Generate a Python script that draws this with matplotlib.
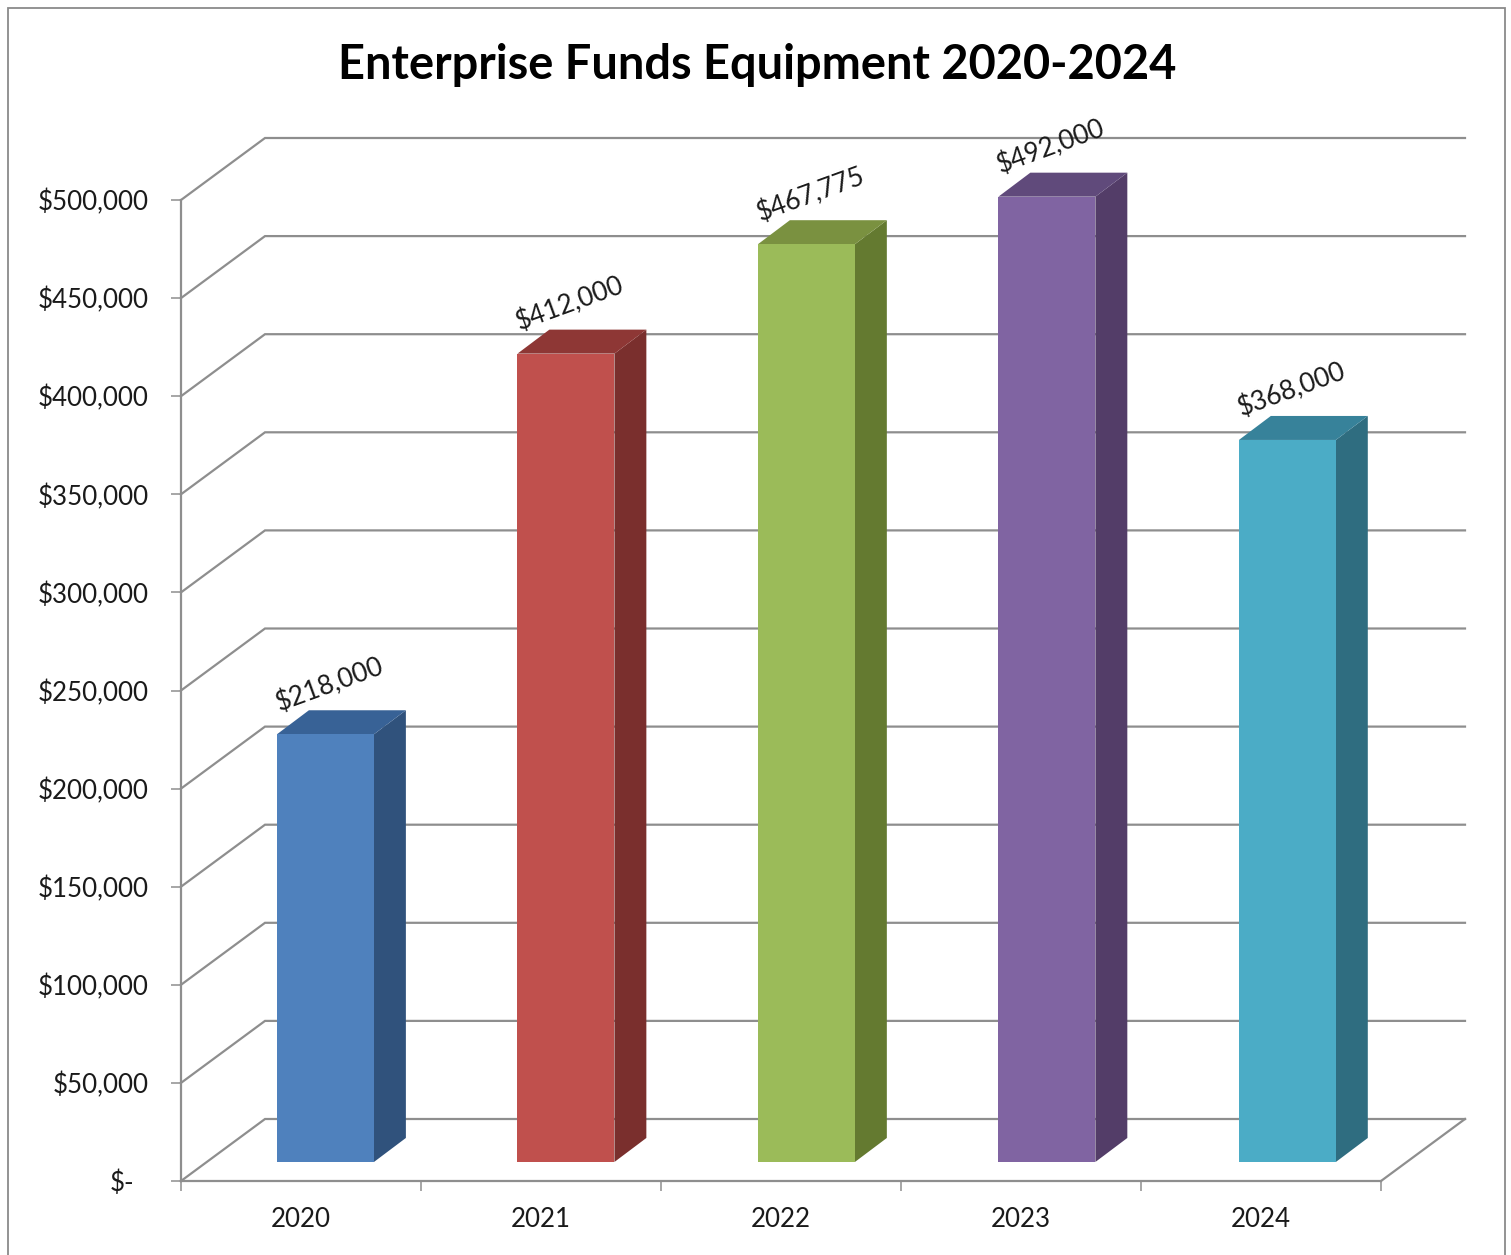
from matplotlib import pyplot as plt
from matplotlib.patches import Polygon, Rectangle
import numpy as np

years = ["2020", "2021", "2022", "2023", "2024"]
values = [218000, 412000, 467775, 492000, 368000]
ticks = [0, 50000, 100000, 150000, 200000, 250000, 300000, 350000, 400000, 450000, 500000]
front_colors = ["#4F81BD", "#C0504D", "#9BBB59", "#8064A2", "#4BACC6"]
side_colors = ["#30527C", "#7A2F2D", "#647A30", "#533D68", "#2F6D80"]
top_colors = ["#386296", "#8E3735", "#7A9140", "#604A7B", "#37829A"]

# fake 3d: how far the back wall and the bars are shifted, in data units
wall_dx = 0.35
wall_dy = 31600
bar_left = 0.40
bar_step = 1.002
bar_width = 0.404
bar_base = 9700
side_dx = 0.133
side_dy = 12230

grid_color = "#8E8E8E"
px = 0.72  # pixels to points at dpi 100
W, H = 1511, 1255


def money(v):
    if v == 0:
        return "$-"
    return f"${v:,}"


plt.rcParams["font.family"] = ["Lato", "DejaVu Sans"]

fig = plt.figure(figsize=(W / 100, H / 100), dpi=100)
ax = fig.add_axes([181 / W, (H - 1181) / H, 1200 / W, 981 / H])
ax.set_xlim(0, 5)
ax.set_ylim(0, 500000)
ax.patch.set_visible(False)

# chart frame, open at the bottom like the cropped screenshot
fig.add_artist(Rectangle((8 / W, -0.01), 1497 / W, (H - 8) / H + 0.01, transform=fig.transFigure,
                         fill=False, edgecolor="#8A8A8A", linewidth=1.3))

# gridlines running along the floor/side wall and the back wall
for v in ticks:
    ax.plot([0, wall_dx, 5 + wall_dx], [v, v + wall_dy, v + wall_dy],
            color=grid_color, lw=1.6, clip_on=False, zorder=1, solid_joinstyle="miter")
ax.plot([5, 5 + wall_dx], [0, wall_dy], color=grid_color, lw=1.6, clip_on=False, zorder=1)

for i in range(len(years)):
    x0 = i * bar_step + bar_left
    x1 = x0 + bar_width
    y0 = bar_base
    y1 = values[i] + bar_base
    ax.add_patch(Polygon([(x1, y0), (x1 + side_dx, y0 + side_dy), (x1 + side_dx, y1 + side_dy), (x1, y1)],
                         facecolor=side_colors[i], edgecolor="none", clip_on=False, zorder=3))
    ax.add_patch(Polygon([(x0, y1), (x0 + side_dx, y1 + side_dy), (x1 + side_dx, y1 + side_dy), (x1, y1)],
                         facecolor=top_colors[i], edgecolor="none", clip_on=False, zorder=3))
    ax.add_patch(Rectangle((x0, y0), bar_width, values[i], facecolor=front_colors[i],
                           edgecolor="none", clip_on=False, zorder=4))
    ax.annotate(money(values[i]), xy=((x0 + x1) / 2, y1), xytext=(4 * px, 50 * px),
                textcoords="offset points", rotation=20, rotation_mode="anchor",
                ha="center", va="center", fontsize=19, color="#1A1A1A", zorder=5,
                annotation_clip=False)

for s in ["top", "right"]:
    ax.spines[s].set_visible(False)
for s in ["left", "bottom"]:
    ax.spines[s].set_color(grid_color)
    ax.spines[s].set_linewidth(1.6)
    ax.spines[s].set_zorder(2)

ax.set_yticks(ticks)
ax.set_yticklabels([money(v) for v in ticks], fontsize=18.6, color="#1A1A1A")
ax.tick_params(axis="y", length=10 * px, width=1.1, color=grid_color, pad=22 * px)
# the "$-" label sits further left than the others (accounting format padding)
ax.get_yticklabels()[0].set_x(-15 / 1200)

ax.set_xticks(np.arange(6))
ax.set_xticklabels([])
ax.tick_params(axis="x", which="major", length=10 * px, width=1.1, color=grid_color)
ax.set_xticks(np.arange(5) + 0.5, minor=True)
ax.set_xticklabels(years, minor=True, fontsize=18.6, color="#1A1A1A")
ax.tick_params(axis="x", which="minor", length=0, pad=26 * px)

fig.text(757 / W, (H - 65) / H, "Enterprise Funds Equipment 2020-2024", ha="center", va="center",
         fontsize=33.8, fontweight="bold", color="black")

fig.savefig("out.png", dpi=100, facecolor="white")
